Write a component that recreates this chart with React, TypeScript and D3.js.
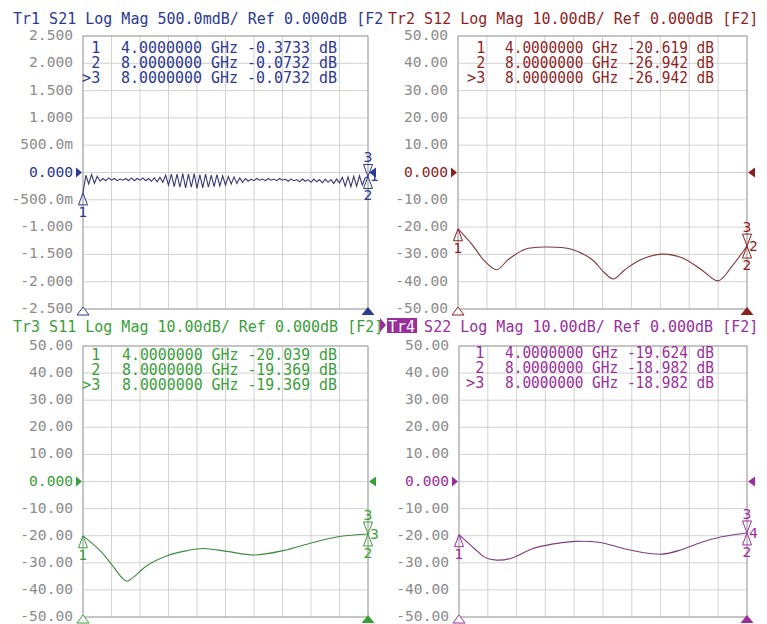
import React from 'react';
import * as d3 from 'd3';

// ---------- data ----------
const F_START = 4.0;
const F_STOP = 8.0;
const FREQ_GRID = [4.0, 4.4, 4.8, 5.2, 5.6, 6.0, 6.4, 6.8, 7.2, 7.6, 8.0];

const S21_TICKS = [2.5, 2.0, 1.5, 1.0, 0.5, 0, -0.5, -1.0, -1.5, -2.0, -2.5];
const S21_TICK_LABELS = ['2.500', '2.000', '1.500', '1.000', '500.0m', '0.000', '-500.0m', '-1.000', '-1.500', '-2.000', '-2.500'];
const DB_TICKS = [50, 40, 30, 20, 10, 0, -10, -20, -30, -40, -50];
const DB_TICK_LABELS = ['50.00', '40.00', '30.00', '20.00', '10.00', '0.000', '-10.00', '-20.00', '-30.00', '-40.00', '-50.00'];

// S21 trace, 101 equally spaced sweep points from 4 to 8 GHz
const s21Values = [
  -0.3733,
  -0.05, -0.21, -0.04, -0.20, -0.07,
  -0.16, -0.11, -0.15, -0.10, -0.14, -0.11, -0.15, -0.12, -0.14, -0.11, -0.15, -0.10, -0.15, -0.11, -0.14, -0.10, -0.15, -0.11, -0.16, -0.10, -0.17, -0.09, -0.18,
  -0.05, -0.23, -0.03, -0.26, -0.03, -0.27, -0.02, -0.28, -0.03, -0.27, -0.02, -0.29, -0.04, -0.28, -0.03, -0.27, -0.05, -0.26, -0.04, -0.25, -0.06, -0.23, -0.07, -0.21, -0.08, -0.20, -0.10, -0.18, -0.11, -0.16,
  -0.12, -0.15, -0.11, -0.14, -0.12, -0.15, -0.11, -0.14, -0.12, -0.15, -0.11, -0.14, -0.12, -0.16, -0.12, -0.15, -0.13, -0.17, -0.12, -0.16, -0.13, -0.18, -0.12, -0.17, -0.13, -0.19, -0.12, -0.18, -0.13, -0.20, -0.12, -0.19,
  -0.09, -0.25, -0.08, -0.26, -0.07, -0.25, -0.06, -0.23, -0.10,
  -0.0732,
];

const s12Freq = [4.0, 4.19, 4.37, 4.535, 4.70, 4.93, 5.20, 5.57, 5.85, 6.03, 6.15, 6.31, 6.54, 6.82, 7.10, 7.37, 7.60, 7.79, 8.0];
const s12Values = [-20.619, -26.2, -32.5, -35.6, -31.8, -28.1, -27.3, -28.1, -31.8, -36.8, -39.0, -35.6, -31.8, -29.9, -31.2, -35.6, -39.7, -34.4, -26.942];

const s11Freq = [4.0, 4.24, 4.43, 4.55, 4.62, 4.71, 4.90, 5.18, 5.46, 5.69, 6.02, 6.41, 6.81, 7.23, 7.60, 8.0];
const s11Values = [-20.039, -25.5, -31.6, -35.6, -36.8, -35.3, -31.0, -27.4, -25.5, -24.7, -25.8, -27.1, -25.5, -22.5, -20.3, -19.369];

const s22Freq = [4.0, 4.22, 4.36, 4.52, 4.73, 5.01, 5.29, 5.61, 5.94, 6.31, 6.63, 6.82, 7.05, 7.37, 7.65, 8.0];
const s22Values = [-19.624, -24.9, -28.0, -29.0, -28.3, -24.9, -23.1, -22.1, -22.4, -24.9, -26.5, -26.8, -25.5, -22.4, -20.4, -18.982];

const MARKER_IDS = [' 1', ' 2', '>3'];
const MARKER_FREQS = ['4.0000000', '8.0000000', '8.0000000'];
const s21MarkerVals = ['-0.3733', '-0.0732', '-0.0732'];
const s12MarkerVals = ['-20.619', '-26.942', '-26.942'];
const s11MarkerVals = ['-20.039', '-19.369', '-19.369'];
const s22MarkerVals = ['-19.624', '-18.982', '-18.982'];

// ---------- styling ----------
const MONO = "'DejaVu Sans Mono', 'Liberation Mono', monospace";
const SANS = "'DejaVu Sans', sans-serif";
const GRID = '#d2d2d2';
const FRAME = '#a2a2a2';
const TICK = '#8c8c8c';
const CHAR_W = 9.02;

type Cfg = {
  id: string;
  title: string;
  traceNo: string;
  x0: number; x1: number; y0: number; y1: number;
  yMin: number; yMax: number;
  ticks: number[]; tickLabels: string[];
  freqs: number[]; values: number[]; smooth: boolean;
  markerVals: string[];
  color: string; trace: string;
  titleX: number; titleY: number;
  rows: number[]; numX: number; rowX: number; rowW: number;
  highlight?: boolean;
  clipRight?: number;
};

const idxToFreq = d3.scaleLinear().domain([0, s21Values.length - 1]).range([F_START, F_STOP]);
const s21Freq = s21Values.map((_, i) => idxToFreq(i));

const panels: Cfg[] = [
  {
    id: 'p1', title: 'Tr1 S21 Log Mag 500.0mdB/ Ref 0.000dB [F2]', traceNo: '1',
    x0: 83, x1: 368, y0: 36, y1: 309, yMin: -2.5, yMax: 2.5,
    ticks: S21_TICKS, tickLabels: S21_TICK_LABELS,
    freqs: s21Freq, values: s21Values, smooth: false, markerVals: s21MarkerVals,
    color: '#2b3990', trace: '#363a70', titleX: 13, titleY: 24,
    rows: [53, 68, 83], numX: 82, rowX: 121, rowW: 216, clipRight: 386,
  },
  {
    id: 'p2', title: 'Tr2 S12 Log Mag 10.00dB/ Ref 0.000dB [F2]', traceNo: '2',
    x0: 458, x1: 747, y0: 36, y1: 309, yMin: -50, yMax: 50,
    ticks: DB_TICKS, tickLabels: DB_TICK_LABELS,
    freqs: s12Freq, values: s12Values, smooth: true, markerVals: s12MarkerVals,
    color: '#8e1f1f', trace: '#7c3a3a', titleX: 388, titleY: 24,
    rows: [53, 68, 83], numX: 467, rowX: 505, rowW: 209,
  },
  {
    id: 'p3', title: 'Tr3 S11 Log Mag 10.00dB/ Ref 0.000dB [F2]', traceNo: '3',
    x0: 83, x1: 368, y0: 346, y1: 617, yMin: -50, yMax: 50,
    ticks: DB_TICKS, tickLabels: DB_TICK_LABELS,
    freqs: s11Freq, values: s11Values, smooth: true, markerVals: s11MarkerVals,
    color: '#3a9e3a', trace: '#3d8a3d', titleX: 13, titleY: 332,
    rows: [360, 375, 390], numX: 82, rowX: 122, rowW: 215,
  },
  {
    id: 'p4', title: 'Tr4 S22 Log Mag 10.00dB/ Ref 0.000dB [F2]', traceNo: '4',
    x0: 459, x1: 747, y0: 346, y1: 617, yMin: -50, yMax: 50,
    ticks: DB_TICKS, tickLabels: DB_TICK_LABELS,
    freqs: s22Freq, values: s22Values, smooth: true, markerVals: s22MarkerVals,
    color: '#9a2e9a', trace: '#7e3c7e', titleX: 388, titleY: 332,
    rows: [358, 373, 388], numX: 466, rowX: 505, rowW: 209, highlight: true,
  },
];

function Panel({ c }: { c: Cfg }) {
  const x = d3.scaleLinear().domain([F_START, F_STOP]).range([c.x0, c.x1]);
  const y = d3.scaleLinear().domain([c.yMin, c.yMax]).range([c.y1, c.y0]);
  const pts: [number, number][] = c.freqs.map((f, i) => [f, c.values[i]]);
  const line = d3.line<[number, number]>()
    .x(d => x(d[0]))
    .y(d => y(d[1]))
    .curve(c.smooth ? d3.curveCatmullRom.alpha(0.5) : d3.curveLinear);
  const z = y(0);
  const yStart = y(c.values[0]);
  const yEnd = y(c.values[c.values.length - 1]);
  const xS = x(F_START);
  const xE = x(F_STOP);
  const th = 12, hw = 4.5;

  return (
    <g>
      {/* grid */}
      {c.ticks.map((t, i) => (
        <line key={'h' + i} x1={c.x0} x2={c.x1} y1={y(t)} y2={y(t)} stroke={GRID} strokeWidth={1} />
      ))}
      {FREQ_GRID.map((f, i) => (
        <line key={'v' + i} x1={x(f)} x2={x(f)} y1={c.y0} y2={c.y1} stroke={GRID} strokeWidth={1} />
      ))}
      <rect x={c.x0} y={c.y0} width={c.x1 - c.x0} height={c.y1 - c.y0} fill="none" stroke={FRAME} strokeWidth={1} />

      {/* tick labels */}
      {c.ticks.map((t, i) => (
        <text key={'t' + i} x={c.x0 - 10} y={y(t) + 4} textAnchor="end" fontFamily={MONO} fontSize={14.6}
          fill={t === 0 ? c.color : TICK}>{c.tickLabels[i]}</text>
      ))}
      {/* reference level arrows */}
      <polygon points={`${c.x0 - 7},${z - 5} ${c.x0 - 1},${z} ${c.x0 - 7},${z + 5}`} fill={c.color} />
      <polygon points={`${c.x1 + 1},${z} ${c.x1 + 8},${z - 5} ${c.x1 + 8},${z + 5}`} fill={c.color} />

      {/* stimulus markers at bottom */}
      <polygon points={`${c.x0},${c.y1 - 2} ${c.x0 - 6},${c.y1 + 6} ${c.x0 + 6},${c.y1 + 6}`} fill="#fff" stroke={c.color} strokeWidth={1} />
      <polygon points={`${c.x1},${c.y1 - 2} ${c.x1 - 6.5},${c.y1 + 6} ${c.x1 + 6.5},${c.y1 + 6}`} fill={c.color} />

      {/* trace */}
      <path d={line(pts) || ''} fill="none" stroke={c.trace} strokeWidth={1.1} />

      {/* marker 1 */}
      <polygon points={`${xS},${yStart} ${xS - hw},${yStart + th} ${xS + hw},${yStart + th}`} fill="none" stroke={c.color} strokeWidth={1} />
      <text x={xS} y={yStart + th + 12} textAnchor="middle" fontFamily={SANS} fontSize={14} fill={c.color}>1</text>
      {/* marker 3 (active) */}
      <polygon points={`${xE},${yEnd} ${xE - hw},${yEnd - th} ${xE + hw},${yEnd - th}`} fill="none" stroke={c.color} strokeWidth={1} />
      <text x={xE} y={yEnd - th - 2} textAnchor="middle" fontFamily={SANS} fontSize={14} fill={c.color}>3</text>
      {/* marker 2 */}
      <polygon points={`${xE},${yEnd} ${xE - hw},${yEnd + th} ${xE + hw},${yEnd + th}`} fill="none" stroke={c.color} strokeWidth={1} />
      <text x={xE} y={yEnd + th + 12} textAnchor="middle" fontFamily={SANS} fontSize={14} fill={c.color}>2</text>
      {/* trace number */}
      <text x={xE + 2} y={yEnd + 5} fontFamily={SANS} fontSize={14} fill={c.color}>{c.traceNo}</text>

      {/* marker table */}
      {MARKER_IDS.map((m, i) => (
        <g key={'r' + i} fontFamily={MONO} fontSize={15.2} fill={c.color}>
          <text x={c.numX} y={c.rows[i]} style={{ whiteSpace: 'pre' }}>{m}</text>
          <text x={c.rowX} y={c.rows[i]} textLength={c.rowW} lengthAdjust="spacingAndGlyphs"
            style={{ whiteSpace: 'pre' }}>{`${MARKER_FREQS[i]} GHz ${c.markerVals[i]} dB`}</text>
        </g>
      ))}

      {/* title */}
      {c.clipRight ? (
        <>
          <clipPath id={'clip-' + c.id}><rect x={0} y={0} width={c.clipRight} height={40} /></clipPath>
          <text x={c.titleX} y={c.titleY} fontFamily={MONO} fontSize={15} fill={c.color} clipPath={`url(#clip-${c.id})`}>{c.title}</text>
        </>
      ) : c.highlight ? (
        <>
          <polygon points={`380,318 386,325 380,332`} fill={c.color} />
          <rect x={c.titleX - 1} y={c.titleY - 14} width={3 * CHAR_W + 3} height={15} fill={c.color} />
          <text x={c.titleX} y={c.titleY} fontFamily={MONO} fontSize={15} fill={c.color}>
            <tspan fill="#ffffff">{c.title.slice(0, 3)}</tspan>
            <tspan>{c.title.slice(3)}</tspan>
          </text>
        </>
      ) : (
        <text x={c.titleX} y={c.titleY} fontFamily={MONO} fontSize={15} fill={c.color}>{c.title}</text>
      )}
    </g>
  );
}

export default function App() {
  return (
    <svg width={767} height={624} style={{ position: 'absolute', left: 0, top: 0, background: '#fff' }}>
      <rect x={0} y={0} width={767} height={624} fill="#ffffff" />
      {panels.map(p => <Panel key={p.id} c={p} />)}
    </svg>
  );
}
